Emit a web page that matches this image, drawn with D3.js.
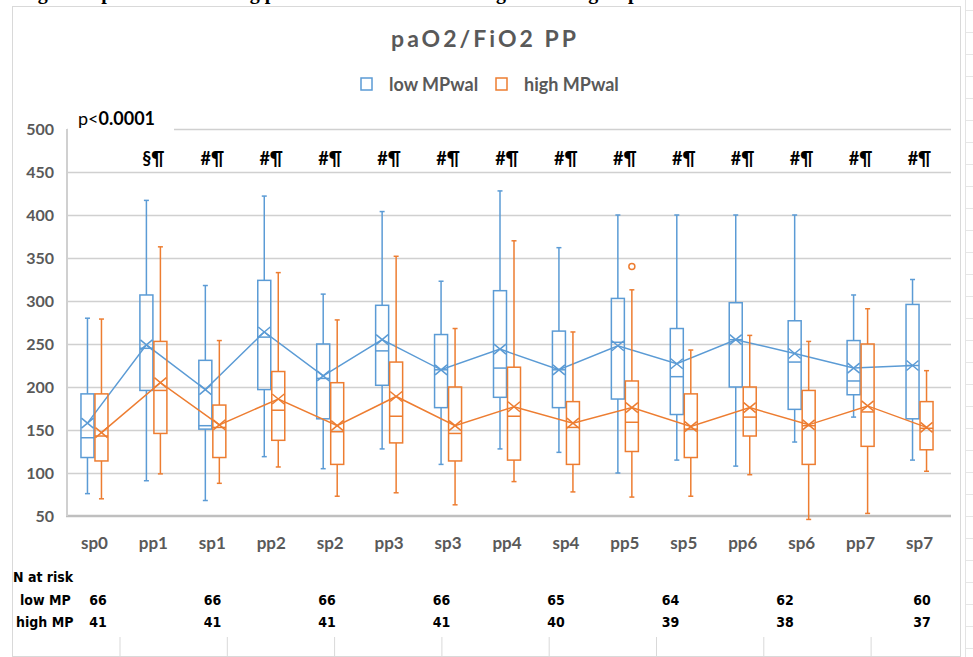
<!DOCTYPE html>
<meta charset="utf-8">
<style>
body { margin: 0; background: #fff; }
text { font-family: Lato, "Open Sans", sans-serif; }
.tick-lbl { font-weight: bold; font-size: 16px; fill: #595959; }
.x-lbl { font-weight: bold; font-size: 17px; fill: #595959; }
.tbl { font-family: "Liberation Sans Narrow", "DejaVu Sans Condensed", sans-serif; font-weight: bold; font-size: 14px; fill: #000; }
</style>
<svg width="973" height="657"></svg>
<script src="https://d3js.org/d3.v7.min.js"></script>
<script>

// categories along x
var categories = ["sp0","pp1","sp1","pp2","sp2","pp3","sp3","pp4","sp4","pp5","sp5","pp6","sp6","pp7","sp7"];

// low MPwal (blue) : min, q1, median, q3, max, mean
var lowMin  = [76, 91, 68, 119, 105, 128, 110, 128, 124, 100, 115, 108, 136, 165, 115];
var lowQ1   = [118, 196, 151, 197, 163, 202, 176, 188, 176, 186, 168, 200, 174, 191, 163];
var lowMed  = [141, 245, 155, 258, 210, 242, 220, 222, 220, 252, 212, 255, 229, 207, 225];
var lowQ3   = [192, 307, 231, 324, 250, 295, 261, 312, 265, 303, 268, 298, 277, 254, 296];
var lowMax  = [280, 417, 318, 422, 308, 404, 323, 428, 362, 400, 400, 400, 400, 307, 325];
var lowMean = [158, 249, 197, 264, 213, 255, 220, 244, 220, 248, 227, 255, 239, 222, 225];

// high MPwal (orange)
var highMin  = [70, 99, 88, 107, 73, 77, 63, 90, 78, 72, 73, 98, 46, 53, 102];
var highQ1   = [114, 146, 118, 138, 110, 135, 114, 115, 110, 125, 118, 143, 110, 131, 127];
var highMed  = [143, 196, 153, 173, 148, 166, 146, 166, 153, 159, 151, 165, 155, 171, 152];
var highQ3   = [192, 253, 179, 218, 205, 229, 200, 223, 183, 207, 192, 200, 196, 250, 183];
var highMax  = [279, 363, 254, 333, 278, 352, 268, 370, 264, 313, 243, 260, 253, 291, 219];
var highMean = [147, 205, 156, 186, 155, 189, 155, 177, 158, 176, 154, 176, 156, 178, 153];
var highOutliers = [{cat: "pp5", v: 340}];

// significance marks over each category
var sigMarks = ["", "§¶", "#¶", "#¶", "#¶", "#¶", "#¶", "#¶", "#¶", "#¶", "#¶", "#¶", "#¶", "#¶", "#¶"];

var yTicks = [50, 100, 150, 200, 250, 300, 350, 400, 450, 500];

// N at risk table
var riskLow  = [66, 66, 66, 66, 65, 64, 62, 60];
var riskHigh = [41, 41, 41, 41, 40, 39, 38, 37];

var blue = "#5b9bd5", orange = "#ed7d31";

var svg = d3.select("svg");

// frame
svg.append("rect").attr("x", 12.5).attr("y", 6.5).attr("width", 948).attr("height", 650)
  .attr("fill", "none").attr("stroke", "#d9d9d9");
svg.append("line").attr("x1", 965.5).attr("x2", 965.5).attr("y1", 0).attr("y2", 657)
  .attr("stroke", "#e3e3e3");
d3.range(0, 657, 22).forEach(function(y) {
  svg.append("line").attr("x1", 966).attr("x2", 973).attr("y1", y + 10.5).attr("y2", y + 10.5)
    .attr("stroke", "#e6e6e6");
});

// cut-off caption at the very top (only its lowest part shows)
svg.append("text").attr("x", 20).attr("y", -1)
  .style("font-family", "'Liberation Serif', serif").style("font-weight", "bold").style("font-size", "20px")
  .text("Figure 3. paO2/FiO2 during pronation in the low and high MPwal groups");

var x = d3.scaleBand().domain(categories).range([65, 949]);
var y = d3.scaleLinear().domain([50, 500]).range([516, 129]);

var off = 7, bw = 13;

// gridlines
svg.append("g").selectAll("line").data(yTicks.filter(function(d){ return d > 50; })).join("line")
  .attr("x1", 67).attr("x2", 951)
  .attr("y1", function(d){ return Math.round(y(d)) + 0.5; })
  .attr("y2", function(d){ return Math.round(y(d)) + 0.5; })
  .attr("stroke", "#d0d0d0").attr("stroke-width", 1.5);

// axes lines
svg.append("line").attr("x1", 66).attr("x2", 951).attr("y1", y(50)).attr("y2", y(50))
  .attr("stroke", "#bfbfbf").attr("stroke-width", 2.5);
svg.append("line").attr("x1", 67).attr("x2", 67).attr("y1", y(500)).attr("y2", y(50))
  .attr("stroke", "#d0d0d0").attr("stroke-width", 2);

// y tick labels
svg.append("g").selectAll("text").data(yTicks).join("text")
  .attr("class", "tick-lbl")
  .attr("x", 54).attr("y", function(d){ return y(d) + 6; })
  .attr("text-anchor", "end")
  .text(function(d){ return d; });

// x labels
svg.append("g").selectAll("text").data(categories).join("text")
  .attr("class", "x-lbl")
  .attr("x", function(d){ return x(d) + x.bandwidth() / 2; })
  .attr("y", 549)
  .attr("text-anchor", "middle")
  .text(function(d){ return d; });

// p value label with white background over the top gridline
svg.append("rect").attr("x", 68).attr("y", 110).attr("width", 106).attr("height", 24).attr("fill", "#fff");
var pt = svg.append("text").attr("x", 78).attr("y", 125).style("font-size", "18px").attr("fill", "#000");
pt.append("tspan").text("p<");
pt.append("tspan").style("font-weight", "bold").text("0.0001");

// significance marks
svg.append("g").selectAll("text").data(categories).join("text")
  .attr("x", function(d){ return x(d) + x.bandwidth() / 2; })
  .attr("y", 165)
  .attr("text-anchor", "middle")
  .style("font-size", "18px").style("font-weight", "bold").attr("fill", "#000")
  .text(function(d, i){ return sigMarks[i]; });

function series(mins, q1s, meds, q3s, maxs, means, color, dx) {
  var g = svg.append("g").attr("stroke", color).attr("fill", "none").attr("stroke-width", 1.5);
  var rows = categories.map(function(c, i) {
    return {c: c, cx: x(c) + x.bandwidth() / 2 + dx, min: mins[i], q1: q1s[i], med: meds[i], q3: q3s[i], max: maxs[i], mean: means[i]};
  });
  // whiskers
  g.selectAll(".wu").data(rows).join("line").attr("class", "wu")
    .attr("x1", function(d){ return d.cx; }).attr("x2", function(d){ return d.cx; })
    .attr("y1", function(d){ return y(d.q3); }).attr("y2", function(d){ return y(d.max); });
  g.selectAll(".wl").data(rows).join("line").attr("class", "wl")
    .attr("x1", function(d){ return d.cx; }).attr("x2", function(d){ return d.cx; })
    .attr("y1", function(d){ return y(d.q1); }).attr("y2", function(d){ return y(d.min); });
  // caps
  g.selectAll(".cu").data(rows).join("line").attr("class", "cu")
    .attr("x1", function(d){ return d.cx - 2.5; }).attr("x2", function(d){ return d.cx + 2.5; })
    .attr("y1", function(d){ return y(d.max); }).attr("y2", function(d){ return y(d.max); });
  g.selectAll(".cl").data(rows).join("line").attr("class", "cl")
    .attr("x1", function(d){ return d.cx - 2.5; }).attr("x2", function(d){ return d.cx + 2.5; })
    .attr("y1", function(d){ return y(d.min); }).attr("y2", function(d){ return y(d.min); });
  // boxes
  g.selectAll("rect").data(rows).join("rect")
    .attr("x", function(d){ return d.cx - bw / 2; }).attr("width", bw)
    .attr("y", function(d){ return y(d.q3); })
    .attr("height", function(d){ return y(d.q1) - y(d.q3); })
    .attr("fill", "none");
  // medians
  g.selectAll(".md").data(rows).join("line").attr("class", "md")
    .attr("x1", function(d){ return d.cx - bw / 2; }).attr("x2", function(d){ return d.cx + bw / 2; })
    .attr("y1", function(d){ return y(d.med); }).attr("y2", function(d){ return y(d.med); });
  // mean line
  g.append("path")
    .attr("d", d3.line().x(function(d){ return d.cx; }).y(function(d){ return y(d.mean); })(rows));
  // mean markers (X)
  g.selectAll(".mx").data(rows).join("path").attr("class", "mx")
    .attr("d", function(d){
      var cx = d.cx, cy = y(d.mean), w = 6, h = 5;
      return "M" + (cx - w) + "," + (cy - h) + "L" + (cx + w) + "," + (cy + h) +
             "M" + (cx - w) + "," + (cy + h) + "L" + (cx + w) + "," + (cy - h);
    });
}

series(lowMin, lowQ1, lowMed, lowQ3, lowMax, lowMean, blue, -off);
series(highMin, highQ1, highMed, highQ3, highMax, highMean, orange, off);

// outliers
svg.append("g").selectAll("circle").data(highOutliers).join("circle")
  .attr("cx", function(d){ return x(d.cat) + x.bandwidth() / 2 + off; })
  .attr("cy", function(d){ return y(d.v); })
  .attr("r", 3).attr("fill", "none").attr("stroke", orange).attr("stroke-width", 1.5);

// title
svg.append("text").attr("x", 485).attr("y", 47).attr("text-anchor", "middle")
  .style("font-size", "23px").style("letter-spacing", "3px").style("font-weight", "bold")
  .attr("fill", "#595959").text("paO2/FiO2  PP");

// legend
var legend = [{name: "low MPwal", color: blue, x: 361}, {name: "high MPwal", color: orange, x: 496}];
var lg = svg.append("g").selectAll("g").data(legend).join("g");
lg.append("rect").attr("x", function(d){ return d.x; }).attr("y", 78).attr("width", 11).attr("height", 12)
  .attr("fill", "none").attr("stroke", function(d){ return d.color; }).attr("stroke-width", 1.5);
lg.append("text").attr("x", function(d){ return d.x + 28; }).attr("y", 91)
  .style("font-size", "18px").style("font-weight", "bold").attr("fill", "#595959")
  .text(function(d){ return d.name; });

// N at risk table
var tx = d3.scaleLinear().domain([0, 6, 7]).range([98, 785, 922]);
svg.append("text").attr("class", "tbl").attr("x", 13).attr("y", 582).text("N at risk");
svg.append("text").attr("class", "tbl").attr("x", 20).attr("y", 605).text("low MP");
svg.append("text").attr("class", "tbl").attr("x", 16).attr("y", 627).text("high MP");
svg.append("g").selectAll("text").data(riskLow).join("text").attr("class", "tbl")
  .attr("x", function(d, i){ return tx(i); }).attr("y", 605).attr("text-anchor", "middle")
  .text(function(d){ return d; });
svg.append("g").selectAll("text").data(riskHigh).join("text").attr("class", "tbl")
  .attr("x", function(d, i){ return tx(i); }).attr("y", 627).attr("text-anchor", "middle")
  .text(function(d){ return d; });
// table cell dividers
svg.append("g").selectAll("line").data(d3.range(8)).join("line")
  .attr("x1", function(d){ return 120 + d * 107.3; }).attr("x2", function(d){ return 120 + d * 107.3; })
  .attr("y1", 637).attr("y2", 656).attr("stroke", "#d9d9d9");

</script>
